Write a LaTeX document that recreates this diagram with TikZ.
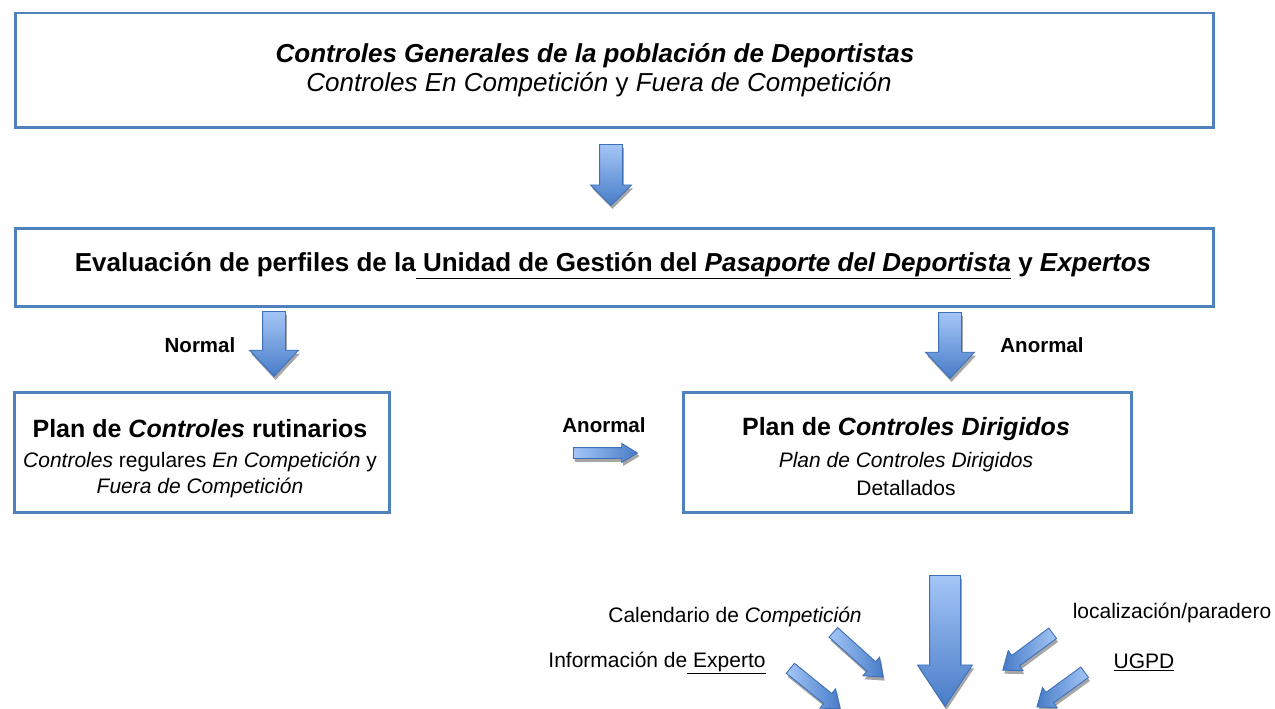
\documentclass[tikz,border=0pt]{standalone}
\usepackage{fontspec}
\setmainfont{Liberation Sans}
\usetikzlibrary{shapes.arrows,shadows}
\definecolor{boxblue}{RGB}{79,129,189}
\definecolor{arrLight}{RGB}{164,198,246}
\definecolor{arrDark}{RGB}{72,124,200}
\definecolor{arrEdge}{RGB}{62,112,184}
\begin{document}
\begin{tikzpicture}[x=1pt,y=1pt,
  box/.style={draw=boxblue, line width=2.5pt, fill=white, inner sep=0pt, anchor=north west},
  blk/.style={single arrow, draw=arrEdge, line width=0.9pt,
    inner xsep=0pt, minimum width=0pt, single arrow head indent=0pt, anchor=tail,
    drop shadow={shadow xshift=1.5pt, shadow yshift=-3.5pt, fill=black!35, opacity=1}},
  vgrad/.style={top color=arrLight, bottom color=arrDark},
  lrgrad/.style={left color=arrLight, right color=arrDark},
  rlgrad/.style={left color=arrDark, right color=arrLight},
  medarrow/.style={blk, vgrad, rotate=-90, inner ysep=11pt, single arrow head extend=13pt, single arrow tip angle=86},
  smallarrow/.style={blk, inner ysep=6pt, single arrow head extend=6pt, single arrow tip angle=76},
  t26/.style={font=\fontsize{26}{30}\selectfont, inner sep=0pt},
  t25/.style={font=\fontsize{25}{29}\selectfont\bfseries, inner sep=0pt},
  t21/.style={font=\fontsize{21}{25}\selectfont, inner sep=0pt},
  lbl/.style={font=\fontsize{20.5}{24}\selectfont\bfseries, inner sep=0pt}
]
\useasboundingbox (0,0) rectangle (1275,-709);

% boxes
\node[box, minimum width=1198pt, minimum height=114pt] (b1) at (14,-12) {};
\node[box, minimum width=1198pt, minimum height=78pt] (b2) at (14,-227) {};
\node[box, minimum width=375pt, minimum height=120pt] (b3) at (13,-391) {};
\node[box, minimum width=448pt, minimum height=120pt] (b4) at (682,-391) {};

% box texts
\node[t26] (b1t1) at (595,-56) {\textbf{\textit{Controles Generales de la población de Deportistas}}};
\node[t26] (b1t2) at (599,-85) {\textit{Controles En Competición} y \textit{Fuera de Competición}};
\node[t26] (b2t) at (613,-266) {\textbf{Evaluación de perfiles de la\underline{\ Unidad de Gestión del \textit{Pasaporte del Deportista}} y \textit{Expertos}}};
\node[t25] (b3t1) at (200,-429) {Plan de \textit{Controles} rutinarios};
\node[t21] (b3t2) at (200,-462) {\textit{Controles} regulares \textit{En Competición} y};
\node[t21] (b3t3) at (200,-488) {\textit{Fuera de Competición}};
\node[t25] (b4t1) at (906,-429) {Plan de \textit{Controles Dirigidos}};
\node[t21] (b4t2) at (906,-462) {\textit{Plan de Controles Dirigidos}};
\node[t21] (b4t3) at (906,-488) {Detallados};

% block arrows between boxes
\node[blk, vgrad, rotate=-90, minimum height=61pt, inner ysep=11pt, single arrow head extend=9pt, single arrow tip angle=90] (a1) at (611,-144) {};
\node[medarrow, minimum height=65pt] (aN) at (274,-311) {};
\node[medarrow, minimum height=66pt] (aA) at (950,-312) {};
\node[blk, lrgrad, minimum height=64pt, inner ysep=5pt, single arrow head extend=4pt, single arrow tip angle=62,
  drop shadow={shadow xshift=1.5pt, shadow yshift=-2.5pt, fill=black!35, opacity=1}] (aH) at (573,-453) {};

% labels
\node[lbl] (lN) at (200,-345) {Normal};
\node[lbl] (lA) at (1042,-345) {Anormal};
\node[lbl] (lH) at (604,-425) {Anormal};

% big arrow
\node[blk, vgrad, rotate=-90, minimum height=131pt, inner ysep=15pt, single arrow head extend=12pt, single arrow tip angle=67] (big) at (945,-575) {};

% small inputs
\node[smallarrow, lrgrad, rotate=-42, minimum height=67pt] (s1) at (833,-632) {};
\node[smallarrow, lrgrad, rotate=-39, minimum height=64pt] (s2) at (790,-668) {};
\node[smallarrow, rlgrad, rotate=-143.5, minimum height=62pt] (s3) at (1053,-633) {};
\node[smallarrow, rlgrad, rotate=-144, minimum height=59pt] (s4) at (1085,-672) {};

\node[t21] (c1) at (735,-617) {Calendario de \textit{Competición}};
\node[t21] (c2) at (657,-663) {Información de\underline{\ Experto}};
\node[t21] (c3) at (1172,-613) {localización/paradero};
\node[t21] (c4) at (1144,-662) {\underline{UGPD}};
\end{tikzpicture}
\end{document}
